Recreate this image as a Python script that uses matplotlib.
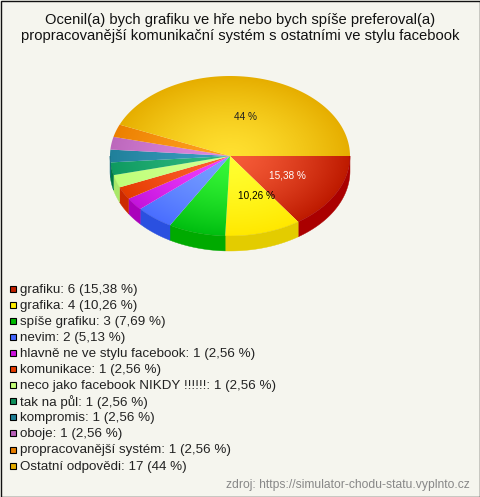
import numpy as np
import matplotlib
matplotlib.use("Agg")
import matplotlib.pyplot as plt
from matplotlib.patches import Polygon, Rectangle

plt.rcParams['font.family'] = ['Liberation Sans', 'DejaVu Sans']

title = "Ocenil(a) bych grafiku ve hře nebo bych spíše preferoval(a)\npropracovanější komunikační systém s ostatními ve stylu facebook"
source = "zdroj: https://simulator-chodu-statu.vyplnto.cz"

categories = ["grafiku", "grafika", "spíše grafiku", "nevim", "hlavně ne ve stylu facebook",
              "komunikace", "neco jako facebook NIKDY !!!!!!", "tak na půl", "kompromis",
              "oboje", "propracovanější systém", "Ostatní odpovědi"]
counts = [6, 4, 3, 2, 1, 1, 1, 1, 1, 1, 1, 17]
percents = ["15,38", "10,26", "7,69", "5,13", "2,56", "2,56", "2,56", "2,56", "2,56", "2,56", "2,56", "44"]

inner = ["#F65C38", "#FFFF30", "#38F838", "#78A0FF", "#F040FF", "#FF6030",
         "#D2FF92", "#30B880", "#3A9CC0", "#E088E0", "#FFA020", "#FFE030"]
outer = ["#BE1A00", "#FFE800", "#00BE10", "#4A6EFF", "#C414DC", "#E43C00",
         "#BEFF78", "#0E9A60", "#20809A", "#BC68BC", "#EC8000", "#E6AE00"]
walls = ["#AA0000", "#E3CC00", "#00AA00", "#2A50E0", "#AA00BB", "#CC2A00",
         "#A8E868", "#007744", "#0F6680", "#9A4C9A", "#C86C00", "#C89800"]
legend_colors = ["#C02000", "#FFEE00", "#00BB00", "#4466FF", "#CC11DD", "#E63C00",
                 "#C4FF78", "#0E8F5A", "#1E7F96", "#B860B8", "#E87E00", "#E6AE00"]

bg = "#F5F5EE"
cx, cy, rx, ry, depth = 230, 156, 120, 80, 15

fig = plt.figure(figsize=(4.8, 4.97), dpi=100, facecolor=bg)
ax = fig.add_axes([0, 0, 1, 1])
ax.set_axis_off()

# angles go clockwise on screen, starting at the right side
edges = np.cumsum([0] + counts) / sum(counts) * 2 * np.pi


def rim(a0, a1):
    t = np.linspace(a0, a1, 80)
    return cx + rx * np.cos(t), cy + ry * np.sin(t)


# side wall, only the front half is visible
for i in range(len(counts)):
    a0, a1 = edges[i], min(edges[i + 1], np.pi)
    if a0 >= np.pi:
        continue
    x, y = rim(a0, a1)
    pts = np.r_[np.c_[x, y], np.c_[x[::-1], y[::-1] + depth]]
    ax.add_patch(Polygon(pts, closed=True, fc=walls[i], ec=walls[i], lw=0.3))

# top face with a radial gradient
xx, yy = np.meshgrid(np.linspace(cx - rx - 2, cx + rx + 2, 300),
                     np.linspace(cy - ry - 2, cy + ry + 2, 200))
rr = np.clip(np.hypot((xx - cx) / rx, (yy - cy) / ry), 0, 1)[..., None] ** 1.4
extent = (cx - rx - 2, cx + rx + 2, cy + ry + 2, cy - ry - 2)
for i in range(len(counts)):
    x, y = rim(edges[i], edges[i + 1])
    pts = np.r_[[[cx, cy]], np.c_[x, y]]
    patch = Polygon(pts, closed=True, fc="none", ec="none", transform=ax.transData)
    ax.add_patch(patch)
    c0 = np.array(matplotlib.colors.to_rgb(inner[i]))
    c1 = np.array(matplotlib.colors.to_rgb(outer[i]))
    img = c0 + (c1 - c0) * rr
    im = ax.imshow(img, extent=extent, origin="upper", aspect="auto", interpolation="bilinear")
    im.set_clip_path(patch)

ax.set_xlim(0, 480)
ax.set_ylim(497, 0)

# labels of the bigger slices
ax.text(287, 175, percents[0] + " %", color="white", fontsize=7.2, ha="center", va="center")
ax.text(257, 195, percents[1] + " %", color="black", fontsize=7.2, ha="center", va="center")
ax.text(245, 117, percents[11] + " %", color="#222222", fontsize=7.2, ha="center", va="center")

ax.text(240, 28, title, fontsize=10.6, color="#111111", ha="center", va="center", linespacing=1.2)

# legend
for i, name in enumerate(categories):
    y = 289 + i * 16.05
    ax.add_patch(Rectangle((10, y - 3), 6, 6, fc=legend_colors[i], ec="black", lw=0.8))
    ax.text(20, y + 1, "%s: %d (%s %%)" % (name, counts[i], percents[i]),
            fontsize=9.6, color="#222222", ha="left", va="center")

ax.text(470, 485, source, fontsize=8.7, color="#888888", ha="right", va="center")

ax.add_patch(Rectangle((0.5, 0.5), 479, 496, fc="none", ec="#111111", lw=1))

fig.savefig("out.png", dpi=100, facecolor=bg)
